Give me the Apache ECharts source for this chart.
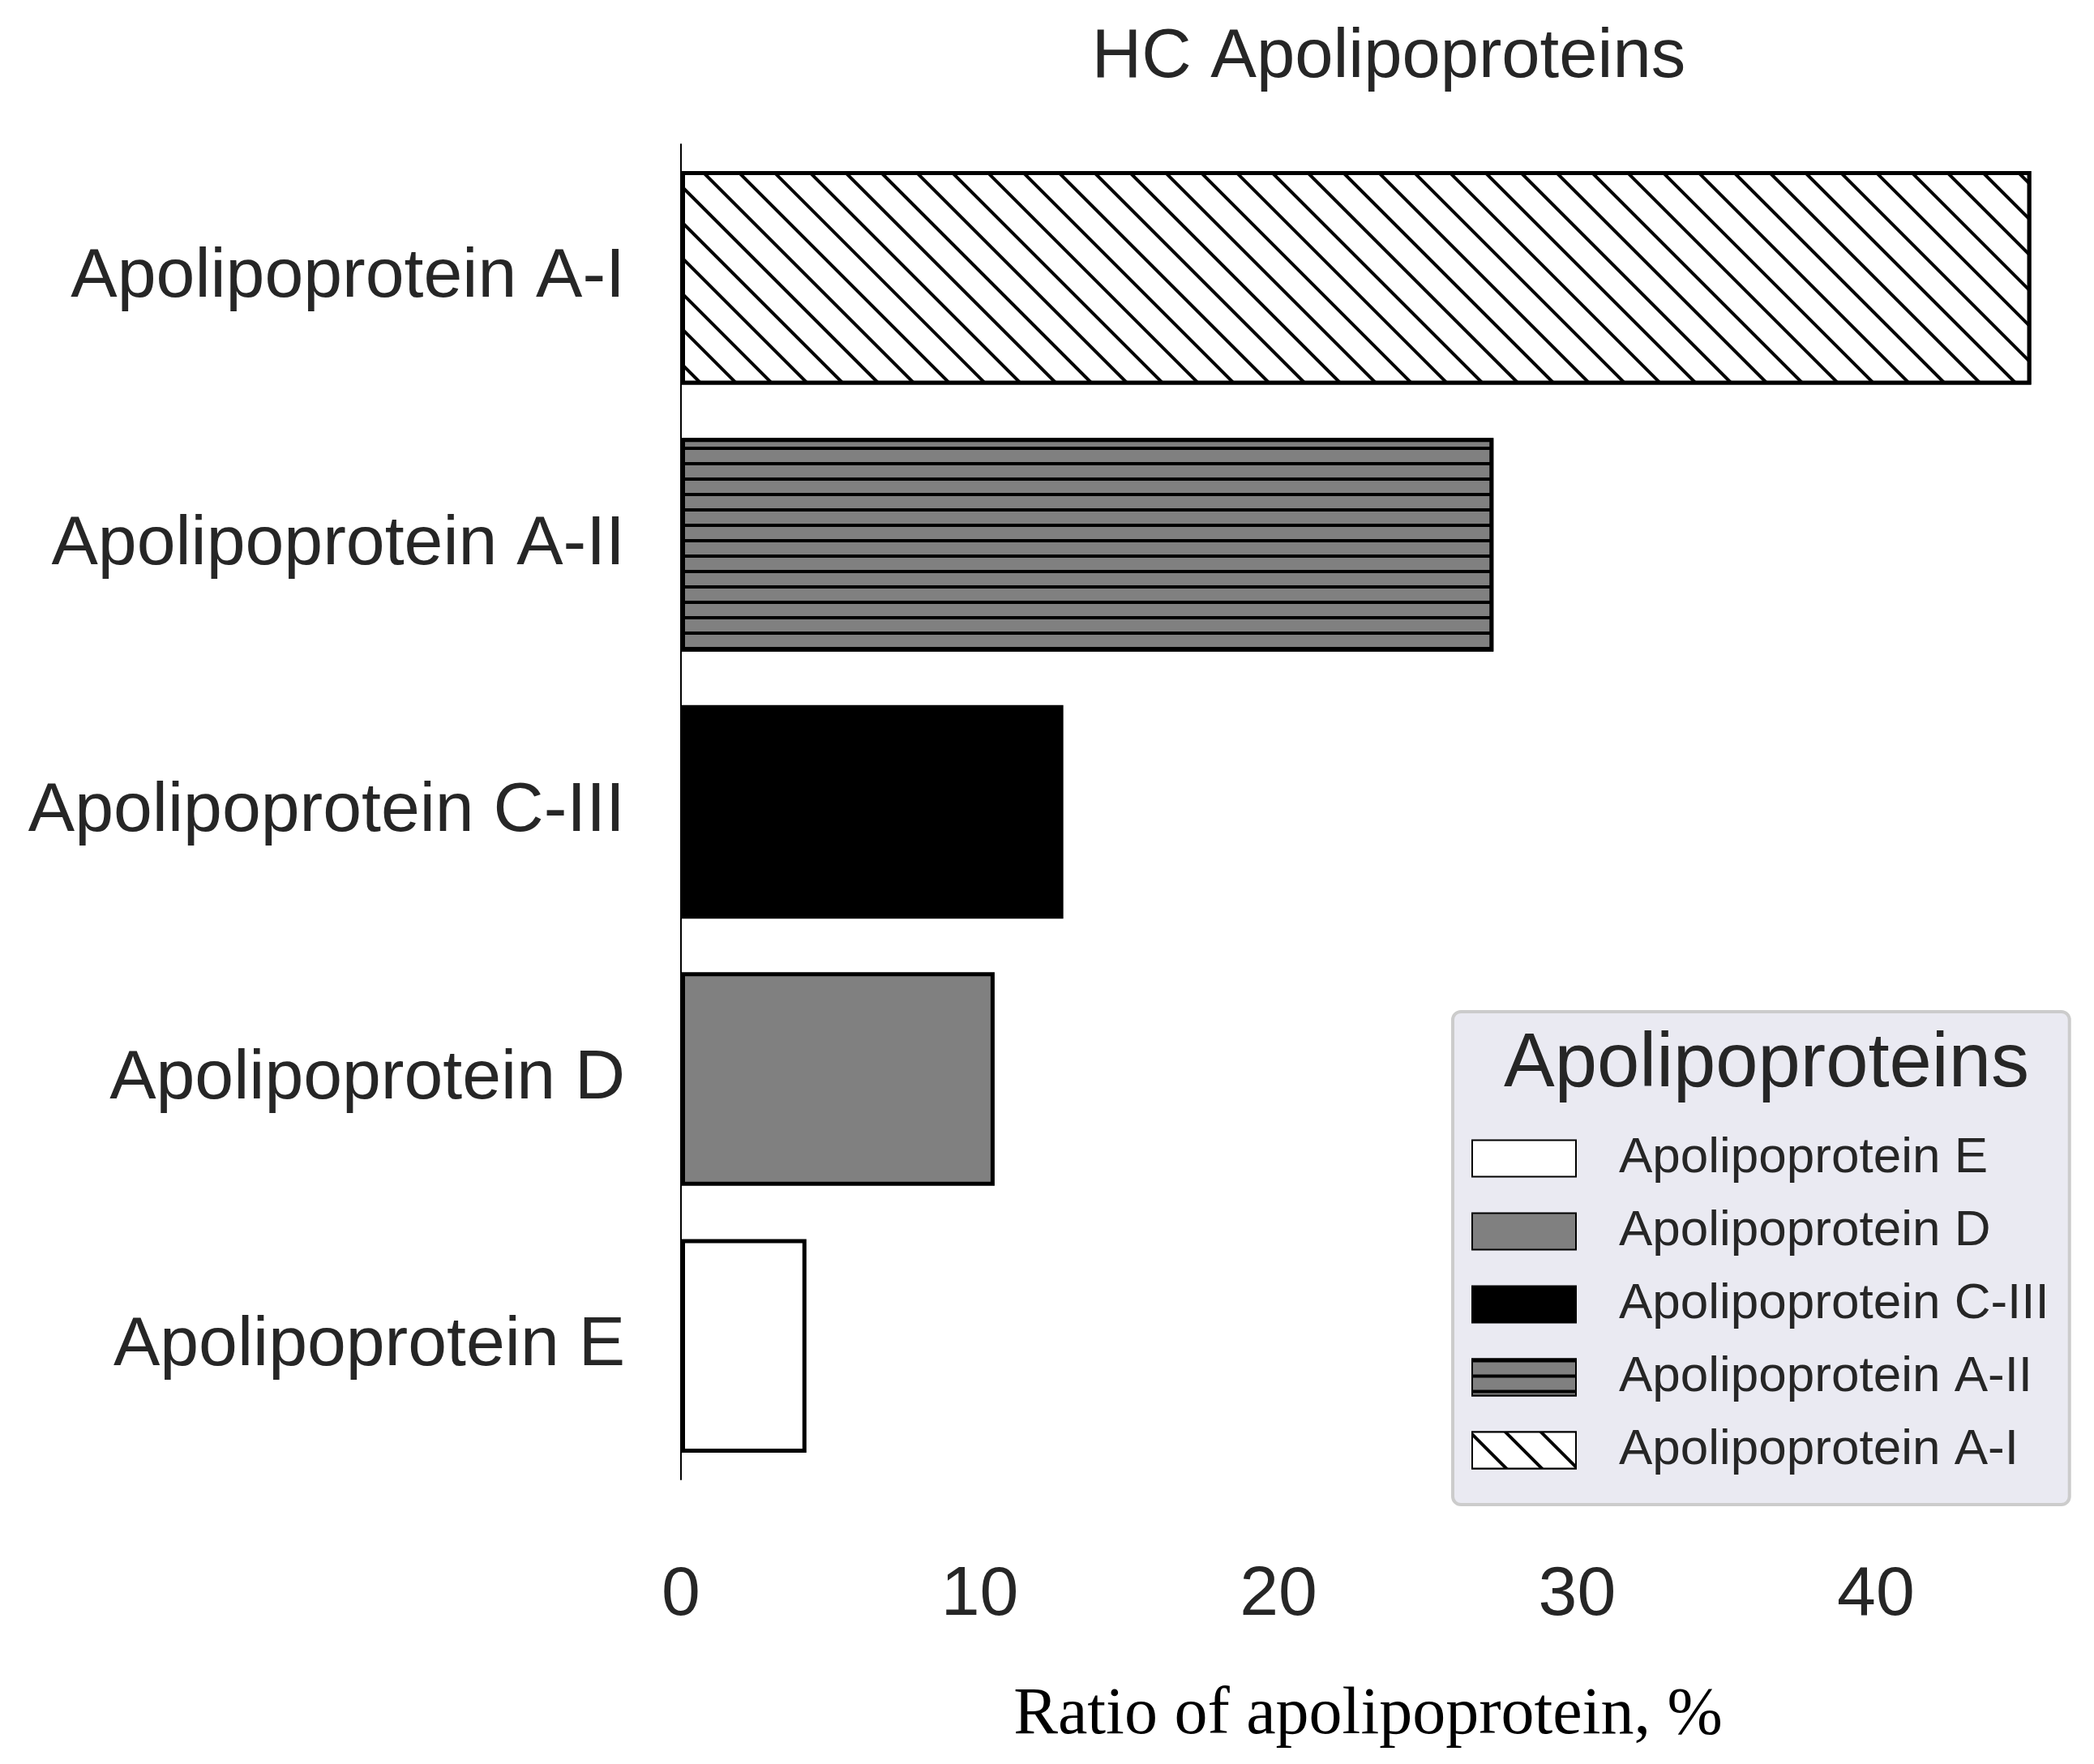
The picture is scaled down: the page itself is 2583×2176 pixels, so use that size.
<!DOCTYPE html>
<html lang="en">
<head>
<meta charset="UTF-8">
<title>HC Apolipoproteins</title>
<style>
	html,body{margin:0;padding:0;background:#fff;}
	#main{width:2583px;height:2176px;}
</style>
</head>
<body>
<div id="main"></div>
<script src="https://cdn.jsdelivr.net/npm/echarts@6/dist/echarts.min.js"></script>
<script>
	// bottom to top
	var categories = ['Apolipoprotein E','Apolipoprotein D','Apolipoprotein C-III','Apolipoprotein A-II','Apolipoprotein A-I'];
	var values = [4.2, 10.5, 12.8, 27.2, 45.2];
	var xTicks = [0, 10, 20, 30, 40];

	var font = '"Liberation Sans", Arial, sans-serif';
	var looks = [
		{color:'#ffffff'},
		{color:'#808080'},
		{color:'#000000'},
		{color:'#808080', decal:{symbol:'rect', symbolSize:1, color:'#000', backgroundColor:'#808080', dashArrayX:[1,0], dashArrayY:[4,15], rotation:0}},
		{color:'#ffffff', decal:{symbol:'rect', symbolSize:1, color:'#000', backgroundColor:'#ffffff', dashArrayX:[1,0], dashArrayY:[4,27], rotation:Math.PI/4}}
	];

	var series = categories.map(function(name, i){
		var data = categories.map(function(c, j){ return j === i ? values[i] : '-'; });
		var style = {color: looks[i].color, borderColor:'#000', borderWidth:5};
		if(looks[i].decal) style.decal = looks[i].decal;
		return {
			name: name,
			type: 'bar',
			stack: 'all',
			barCategoryGap: '20%',
			data: data,
			itemStyle: style
		};
	});

	var option = {
		backgroundColor: '#fff',
		animation: false,
		title: [
			{text:'HC Apolipoproteins', left:1708, top:24, textAlign:'center',
			 textStyle:{fontFamily:font, fontSize:85, fontWeight:'normal', color:'#262626'}},
			{text:'Apolipoproteins', left:2174, top:1262, textAlign:'center', z:10,
			 textStyle:{fontFamily:font, fontSize:94, fontWeight:'normal', color:'#262626'}}
		],
		grid: {left:840, right:48, top:178, bottom:351, containLabel:false},
		legend: {
			orient:'vertical', left:1792, top:1248,
			data: categories.slice(),
			itemWidth:128, itemHeight:45, itemGap:28,
			icon:'rect',
			padding:[150, 25, 36, 23],
			backgroundColor:'#eaeaf2', borderColor:'#cccccc', borderWidth:4, borderRadius:10,
			textStyle:{fontFamily:font, fontSize:62, color:'#262626', padding:[0,0,0,48]}
		},
		xAxis: {
			type:'value', min:0, max:46, interval:10,
			axisLine:{show:false}, axisTick:{show:false}, splitLine:{show:false},
			axisLabel:{fontFamily:font, fontSize:86, color:'#262626', margin:100, showMaxLabel:false,
				formatter:function(v){ return xTicks.indexOf(v) >= 0 ? String(v) : ''; }},
			name:'Ratio of apolipoprotein, %', nameLocation:'middle', nameGap:250,
			nameTextStyle:{fontFamily:'"Liberation Serif", "Times New Roman", serif', fontSize:82, color:'#000'}
		},
		yAxis: {
			type:'category', data:categories,
			axisLine:{show:true, lineStyle:{color:'#000', width:2}},
			axisTick:{show:false},
			axisLabel:{fontFamily:font, fontSize:86, color:'#262626', margin:69}
		},
		series: series
	};
	var myChart = echarts.init(document.getElementById('main'));
	myChart.setOption(option);
</script>
</body>
</html>
